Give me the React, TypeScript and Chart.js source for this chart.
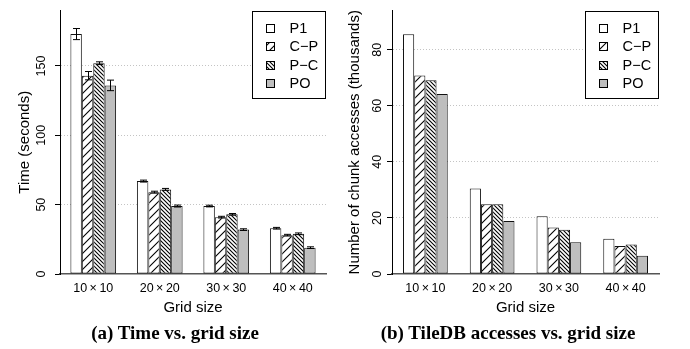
import React, { useEffect, useRef } from 'react';
import { Chart, registerables } from 'chart.js';

Chart.register(...registerables);

// ---------- data ----------
const categories = ['10\u2009×\u200910', '20\u2009×\u200920', '30\u2009×\u200930', '40\u2009×\u200940'];
const seriesLabels = ['P1', 'C−P', 'P−C', 'PO'];

// (a) Time (seconds)
const timeP1 = [173, 67, 49, 33];
const timeCP = [143, 59, 41, 28];
const timePC = [152, 61, 43, 29];
const timePO = [136, 49, 32, 19];
// error half-widths (seconds)
const timeErrP1 = [4, 0.7, 0.6, 0.6];
const timeErrCP = [3, 0.7, 0.6, 0.6];
const timeErrPC = [1, 0.7, 0.6, 0.6];
const timeErrPO = [3.8, 0.7, 0.6, 0.6];

// (b) Number of chunk accesses (thousands)
const accP1 = [85.5, 30.5, 20.6, 12.6];
const accCP = [70.8, 24.9, 16.6, 10.0];
const accPC = [69.1, 24.9, 15.8, 10.5];
const accPO = [64.2, 18.9, 11.3, 6.5];

const timeTicksStep = 50;
const timeMax = 190;
const accTicksStep = 20;
const accMax = 94;

const SANS = '"Liberation Sans", Arial, Helvetica, sans-serif';

function makeHatch(ctx: CanvasRenderingContext2D, size: number, dir: '/' | '\\') {
  const c = document.createElement('canvas');
  c.width = size;
  c.height = size;
  const g = c.getContext('2d')!;
  g.fillStyle = '#ffffff';
  g.fillRect(0, 0, size, size);
  g.strokeStyle = '#000000';
  g.lineWidth = 1.1;
  g.beginPath();
  if (dir === '/') {
    g.moveTo(-1, size + 1);
    g.lineTo(size + 1, -1);
    g.moveTo(-1, 1);
    g.lineTo(1, -1);
    g.moveTo(size - 1, size + 1);
    g.lineTo(size + 1, size - 1);
  } else {
    g.moveTo(-1, -1);
    g.lineTo(size + 1, size + 1);
    g.moveTo(size - 1, -1);
    g.lineTo(size + 1, 1);
    g.moveTo(-1, size - 1);
    g.lineTo(1, size + 1);
  }
  g.stroke();
  return ctx.createPattern(c, 'repeat')!;
}

const boxLegend = {
  id: 'boxLegend',
  afterDraw(chart: any) {
    const { ctx, chartArea } = chart;
    const w = 74;
    const h = 88;
    const x0 = Math.round(chartArea.right - w);
    const y0 = Math.round(chartArea.top);
    ctx.save();
    ctx.fillStyle = '#ffffff';
    ctx.fillRect(x0, y0, w, h);
    ctx.strokeStyle = '#000000';
    ctx.lineWidth = 1;
    ctx.strokeRect(x0 + 0.5, y0 + 0.5, w - 1, h - 1);
    chart.data.datasets.forEach((ds: any, i: number) => {
      const cy = Math.round(y0 + 17.3 + i * 18.1);
      ctx.fillStyle = ds.backgroundColor;
      ctx.fillRect(x0 + 14, cy - 4, 9, 9);
      ctx.strokeStyle = '#000000';
      ctx.strokeRect(x0 + 14.5, cy - 3.5, 8, 8);
      ctx.fillStyle = '#000000';
      ctx.font = '14.5px ' + SANS;
      ctx.textBaseline = 'middle';
      ctx.textAlign = 'left';
      ctx.fillText(ds.label, x0 + 37.5, cy + 1);
    });
    ctx.restore();
  },
};

const errorBars = {
  id: 'errorBars',
  afterDatasetsDraw(chart: any) {
    const { ctx } = chart;
    const yScale = chart.scales.y;
    ctx.save();
    ctx.strokeStyle = '#000000';
    ctx.lineWidth = 1;
    chart.data.datasets.forEach((ds: any, d: number) => {
      if (!ds.errors) return;
      const meta = chart.getDatasetMeta(d);
      meta.data.forEach((bar: any, i: number) => {
        const v = ds.data[i];
        const e = ds.errors[i];
        const x = Math.round(bar.x) + 0.5;
        const yHi = yScale.getPixelForValue(v + e);
        const yLo = yScale.getPixelForValue(v - e);
        const cap = 3.5;
        ctx.beginPath();
        ctx.moveTo(x, yHi);
        ctx.lineTo(x, yLo);
        ctx.moveTo(x - cap, yHi);
        ctx.lineTo(x + cap, yHi);
        ctx.moveTo(x - cap, yLo);
        ctx.lineTo(x + cap, yLo);
        ctx.stroke();
      });
    });
    ctx.restore();
  },
};

type PanelProps = {
  left: number;
  series: number[][];
  errors?: number[][];
  yMax: number;
  yStep: number;
  yTitle: string;
  yAxisWidth: number;
  rightPad: number;
  yTitlePad: number;
  catPct: number;
};

function Panel(p: PanelProps) {
  const ref = useRef<HTMLCanvasElement>(null);
  useEffect(() => {
    const canvas = ref.current!;
    const ctx = canvas.getContext('2d')!;
    const fills = [
      '#ffffff',
      makeHatch(ctx, 8, '/'),
      makeHatch(ctx, 4, '\\'),
      '#bebebe',
    ];
    const datasets = p.series.map((data, i) => ({
      label: seriesLabels[i],
      data,
      errors: p.errors ? p.errors[i] : undefined,
      backgroundColor: fills[i],
      borderColor: '#111111',
      borderWidth: 1,
      borderSkipped: false,
      categoryPercentage: p.catPct,
      barPercentage: 1,
    }));
    const chart = new Chart(canvas, {
      type: 'bar',
      data: { labels: categories, datasets: datasets as any },
      plugins: [errorBars, boxLegend],
      options: {
        responsive: false,
        animation: false,
        layout: { padding: { left: 0, right: p.rightPad, top: 6, bottom: 0 } },
        plugins: {
          legend: { display: false },
          tooltip: { enabled: false },
          title: { display: false },
        },
        scales: {
          x: {
            grid: { display: false, drawTicks: false },
            border: { display: true, color: '#555555', width: 1.5 },
            ticks: {
              color: '#000000',
              font: { family: SANS, size: 12.5 },
              padding: 7.5,
              maxRotation: 0,
              minRotation: 0,
            },
            title: {
              display: true,
              text: 'Grid size',
              color: '#000000',
              font: { family: SANS, size: 15 },
              padding: { top: 0, bottom: 32.5 },
            },
            afterFit: (s: any) => {
              s.height = 75;
            },
          },
          y: {
            min: 0,
            max: p.yMax,
            grid: {
              color: (c: any) => (c.tick && c.tick.value === 0 ? 'rgba(0,0,0,0)' : '#c4c4c4'),
              lineWidth: 1,
              drawTicks: true,
              tickLength: 5,
              tickColor: '#000000',
              tickWidth: 1,
            },
            border: {
              display: true,
              color: '#000000',
              width: 1,
              dash: (c: any) => (c.tick ? [1, 2] : []),
            },
            ticks: {
              stepSize: p.yStep,
              includeBounds: false,
              minRotation: 90,
              maxRotation: 90,
              crossAlign: 'center',
              padding: 3,
              color: '#000000',
              font: { family: SANS, size: 12.5 },
            },
            title: {
              display: true,
              text: p.yTitle,
              color: '#000000',
              font: { family: SANS, size: 15 },
              padding: { top: p.yTitlePad, bottom: 0 },
            },
            afterFit: (s: any) => {
              s.width = p.yAxisWidth;
            },
          },
        },
      } as any,
    });
    return () => chart.destroy();
  }, []);
  return (
    <canvas
      ref={ref}
      width={345}
      height={349}
      style={{ position: 'absolute', left: p.left, top: 0, width: 345, height: 349, display: 'block' }}
    />
  );
}

const captionStyle: React.CSSProperties = {
  position: 'absolute',
  top: 322,
  width: 400,
  textAlign: 'center',
  fontFamily: '"Liberation Serif", "Times New Roman", serif',
  fontWeight: 'bold',
  fontSize: 19,
  lineHeight: '21px',
  color: '#000',
  whiteSpace: 'nowrap',
};

export default function App() {
  return (
    <div style={{ position: 'absolute', left: 0, top: 0, width: 690, height: 349, background: '#fff', overflow: 'hidden' }}>
      <Panel
        left={0}
        series={[timeP1, timeCP, timePC, timePO]}
        errors={[timeErrP1, timeErrCP, timeErrPC, timeErrPO]}
        yMax={timeMax}
        yStep={timeTicksStep}
        yTitle="Time (seconds)"
        yAxisWidth={60}
        rightPad={19}
        yTitlePad={15.5}
        catPct={0.687}
      />
      <Panel
        left={345}
        series={[accP1, accCP, accPC, accPO]}
        yMax={accMax}
        yStep={accTicksStep}
        yTitle="Number of chunk accesses (thousands)"
        yAxisWidth={47}
        rightPad={31}
        yTitlePad={1}
        catPct={0.67}
      />
      <div style={{ ...captionStyle, left: 175 - 200 }}>(a) Time vs. grid size</div>
      <div style={{ ...captionStyle, left: 508 - 200 }}>(b) TileDB accesses vs. grid size</div>
    </div>
  );
}
